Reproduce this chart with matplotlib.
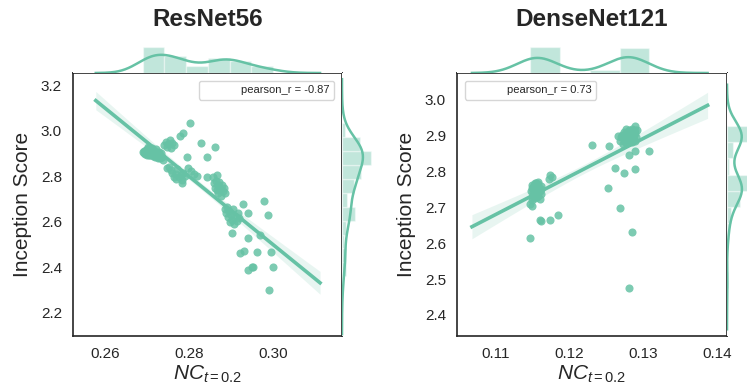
import numpy as np
import matplotlib.pyplot as plt
from matplotlib.lines import Line2D

plt.rcParams['font.family'] = ['Liberation Sans', 'DejaVu Sans']
plt.rcParams['mathtext.fontset'] = 'custom'
plt.rcParams['mathtext.rm'] = 'Liberation Sans'
plt.rcParams['mathtext.it'] = 'Liberation Sans:italic'

# ResNet56: NC_{t=0.2} vs Inception Score
resnet_nc = [
    0.2690, 0.2692, 0.2693, 0.2695, 0.2696, 0.2697, 0.2698, 0.2699, 0.2700, 0.2701,
    0.2702, 0.2704, 0.2706, 0.2708, 0.2710, 0.2712, 0.2714, 0.2716, 0.2718, 0.2720,
    0.2722, 0.2724, 0.2726, 0.2728, 0.2730, 0.2732, 0.2734, 0.2736, 0.2738, 0.2702,
    0.2705, 0.2711, 0.2719, 0.2727,
    0.2741, 0.2745, 0.2750, 0.2755, 0.2760, 0.2765, 0.2757, 0.2748,
    0.2779, 0.2786, 0.2802, 0.2829, 0.2862, 0.2795, 0.2843,
    0.2748, 0.2752, 0.2756, 0.2760, 0.2764, 0.2768, 0.2772, 0.2776, 0.2780, 0.2783,
    0.2786, 0.2790, 0.2783, 0.2770,
    0.2797, 0.2805, 0.2812, 0.2818, 0.2843, 0.2867,
    0.2857, 0.2860, 0.2862, 0.2864, 0.2866, 0.2868, 0.2870, 0.2872, 0.2874, 0.2876,
    0.2878, 0.2880, 0.2883, 0.2886,
    0.2886, 0.2889, 0.2891, 0.2893, 0.2895, 0.2898, 0.2900, 0.2902, 0.2905, 0.2907,
    0.2910, 0.2913, 0.2916, 0.2920,
    0.2902, 0.2929, 0.2979, 0.2940, 0.2987, 0.2940, 0.2969, 0.2921, 0.2931, 0.2962,
    0.2995, 0.2940, 0.2950, 0.2953, 0.3000, 0.2990,
]
resnet_is = [
    2.905, 2.900, 2.912, 2.897, 2.908, 2.915, 2.902, 2.895, 2.918, 2.906,
    2.899, 2.922, 2.910, 2.893, 2.904, 2.925, 2.888, 2.912, 2.900, 2.884,
    2.918, 2.896, 2.880, 2.905, 2.890, 2.878, 2.900, 2.885, 2.872, 2.930,
    2.895, 2.902, 2.890, 2.886,
    2.935, 2.950, 2.942, 2.958, 2.947, 2.935, 2.925, 2.928,
    2.976, 2.990, 3.033, 2.946, 2.930, 2.884, 2.884,
    2.835, 2.842, 2.828, 2.815, 2.795, 2.808, 2.830, 2.798, 2.805, 2.785,
    2.815, 2.800, 2.770, 2.790,
    2.835, 2.822, 2.810, 2.800, 2.797, 2.805,
    2.795, 2.770, 2.750, 2.780, 2.740, 2.760, 2.725, 2.775, 2.745, 2.715,
    2.760, 2.735, 2.750, 2.725,
    2.655, 2.640, 2.665, 2.620, 2.648, 2.600, 2.632, 2.610, 2.655, 2.590,
    2.625, 2.605, 2.640, 2.615,
    2.550, 2.680, 2.690, 2.640, 2.630, 2.530, 2.540, 2.463, 2.472, 2.467,
    2.467, 2.390, 2.400, 2.402, 2.400, 2.300,
]

# DenseNet121: NC_{t=0.2} vs Inception Score
densenet_nc = [
    0.1148, 0.1149, 0.1150, 0.1150, 0.1151, 0.1152, 0.1152, 0.1153, 0.1153, 0.1154,
    0.1154, 0.1155, 0.1155, 0.1156, 0.1156, 0.1157, 0.1157, 0.1158, 0.1158, 0.1159,
    0.1160, 0.1160, 0.1161, 0.1162, 0.1149, 0.1147, 0.1151, 0.1155, 0.1158, 0.1153,
    0.1150, 0.1152, 0.1154, 0.1156, 0.1157, 0.1159, 0.1161, 0.1155,
    0.1174, 0.1177, 0.1172, 0.1160, 0.1162, 0.1174, 0.1185, 0.1147,
    0.1230, 0.1253, 0.1252, 0.1262,
    0.1268, 0.1270, 0.1272, 0.1273, 0.1274, 0.1275, 0.1276, 0.1277, 0.1278, 0.1279,
    0.1280, 0.1280, 0.1281, 0.1282, 0.1283, 0.1284, 0.1284, 0.1285, 0.1286, 0.1287,
    0.1288, 0.1288, 0.1289, 0.1290, 0.1291, 0.1265, 0.1279, 0.1283, 0.1286, 0.1276,
    0.1271, 0.1274, 0.1277, 0.1280, 0.1282, 0.1285, 0.1287, 0.1289,
    0.1281, 0.1288, 0.1308, 0.1274, 0.1288, 0.1268, 0.1285, 0.1281,
]
densenet_is = [
    2.745, 2.730, 2.755, 2.720, 2.740, 2.762, 2.735, 2.750, 2.725, 2.745,
    2.758, 2.738, 2.768, 2.748, 2.728, 2.755, 2.742, 2.760, 2.733, 2.750,
    2.745, 2.722, 2.738, 2.752, 2.705, 2.710, 2.757, 2.752, 2.765, 2.760,
    2.762, 2.755, 2.768, 2.758, 2.770, 2.752, 2.760, 2.765,
    2.790, 2.785, 2.780, 2.665, 2.662, 2.665, 2.680, 2.615,
    2.874, 2.871, 2.754, 2.810,
    2.885, 2.895, 2.878, 2.900, 2.888, 2.905, 2.892, 2.880, 2.910, 2.897,
    2.885, 2.902, 2.915, 2.893, 2.905, 2.882, 2.898, 2.912, 2.890, 2.903,
    2.927, 2.885, 2.908, 2.895, 2.915, 2.898, 2.905, 2.912, 2.900, 2.895,
    2.902, 2.910, 2.918, 2.905, 2.912, 2.920, 2.908, 2.915,
    2.846, 2.857, 2.857, 2.796, 2.807, 2.698, 2.630, 2.475,
]

titles = ['ResNet56', 'DenseNet121']
pearson_r = ['-0.87', '0.73']
x_ticks = [[0.26, 0.28, 0.30], [0.11, 0.12, 0.13, 0.14]]
y_ticks = [[2.2, 2.4, 2.6, 2.8, 3.0, 3.2], [2.4, 2.5, 2.6, 2.7, 2.8, 2.9, 3.0]]
x_lims = [(0.2524, 0.3164), (0.1048, 0.1413)]
y_lims = [(2.099, 3.253), (2.341, 3.075)]
x_bins = [6, 4]
y_bins = [12, 10]

GREEN = '#66c2a5'
DARK = '#262626'
W, H = 747, 392


def kde(vals, cut=3, gridsize=200):
    n = len(vals)
    iqr = np.subtract(*np.percentile(vals, [75, 25]))
    bw = 1.059 * min(vals.std(ddof=1), iqr / 1.349) * n ** -0.2
    grid = np.linspace(vals.min() - cut * bw, vals.max() + cut * bw, gridsize)
    dens = np.exp(-0.5 * ((grid[:, None] - vals[None, :]) / bw) ** 2).sum(1)
    return grid, dens / (n * bw * np.sqrt(2 * np.pi))


def px_axes(fig, x0, y0, x1, y1, **kw):
    return fig.add_axes([x0 / W, 1 - y1 / H, (x1 - x0) / W, (y1 - y0) / H], **kw)


fig = plt.figure(figsize=(W / 100, H / 100), dpi=100)

panels = [(resnet_nc, resnet_is, 73, 342, 'upper right'),
          (densenet_nc, densenet_is, 457, 727, 'upper left')]

for i, (xs, ys, left, right, loc) in enumerate(panels):
    x = np.array(xs)
    y = np.array(ys)
    ax = px_axes(fig, left, 73, right, 336)
    mx = px_axes(fig, left, 46, right, 73, sharex=ax)
    my = px_axes(fig, right, 73, right + 30, 336, sharey=ax)

    # marginal distributions
    gx, dx = kde(x)
    gy, dy = kde(y)
    mx.hist(x, bins=x_bins[i], density=True, color=GREEN, alpha=0.4, edgecolor='white', linewidth=1)
    mx.plot(gx, dx, color=GREEN, lw=1.8)
    my.hist(y, bins=y_bins[i], density=True, color=GREEN, alpha=0.4, edgecolor='white',
            linewidth=1, orientation='horizontal')
    my.plot(dy, gy, color=GREEN, lw=1.8)
    mx.set_ylim(bottom=0)
    my.set_xlim(left=0)
    for m in (mx, my):
        for s in m.spines.values():
            s.set_visible(False)
        m.tick_params(left=False, bottom=False, labelleft=False, labelbottom=False)

    # scatter + regression with 95% CI over the kde support
    ax.scatter(x, y, s=34, color=GREEN, alpha=0.85, linewidths=0, zorder=3)
    slope, inter = np.polyfit(x, y, 1)
    xl = np.linspace(gx[0], gx[-1], 100)
    yl = inter + slope * xl
    resid = y - (inter + slope * x)
    n = len(x)
    s_err = np.sqrt((resid ** 2).sum() / (n - 2))
    se = s_err * np.sqrt(1 / n + (xl - x.mean()) ** 2 / ((x - x.mean()) ** 2).sum())
    ax.fill_between(xl, yl - 1.98 * se, yl + 1.98 * se, color=GREEN, alpha=0.15, linewidth=0)
    ax.plot(xl, yl, color=GREEN, lw=2.6, zorder=4)

    ax.set_xlim(*x_lims[i])
    ax.set_ylim(*y_lims[i])
    ax.set_xticks(x_ticks[i])
    ax.set_xticklabels(['{:.2f}'.format(t) for t in x_ticks[i]])
    ax.set_yticks(y_ticks[i])
    ax.set_yticklabels(['{:.1f}'.format(t) for t in y_ticks[i]])
    ax.tick_params(length=0, pad=8, labelsize=11, colors=DARK)
    for s in ax.spines.values():
        s.set_color(DARK)
        s.set_linewidth(1.2)
    ax.set_xlabel(r'$NC_{t=0.2}$', fontsize=15, color=DARK, labelpad=2)
    ax.set_ylabel('Inception Score', fontsize=15, color=DARK, labelpad=6)

    h = Line2D([], [], linestyle='none')
    leg = ax.legend([h], ['pearson_r = ' + pearson_r[i]], loc=loc, fontsize=8,
                    frameon=True, fancybox=True, framealpha=0.8, borderaxespad=0.7,
                    handlelength=2.6)
    leg.get_frame().set_edgecolor('#cccccc')
    for t in leg.get_texts():
        t.set_color(DARK)

    fig.text((left + right) / 2 / W, 1 - 19 / H, titles[i], ha='center', va='center',
             fontsize=17.5, fontweight='bold', color=DARK)

fig.savefig('out.png', dpi=100)
